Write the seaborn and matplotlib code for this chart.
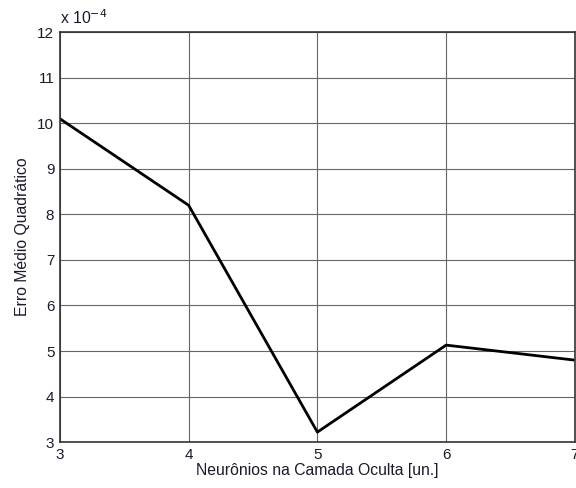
import pandas as pd
import seaborn as sns
import matplotlib.pyplot as plt

# Neurons in the hidden layer vs mean squared error (x 10^-4)
neurons = [3, 4, 5, 6, 7]
mse = [10.1, 8.2, 3.22, 5.13, 4.8]
x_ticks = [3, 4, 5, 6, 7]
y_ticks = [3, 4, 5, 6, 7, 8, 9, 10, 11, 12]

df = pd.DataFrame({"Neuronios": neurons, "Erro": mse})

sns.set_style("white")
plt.rcParams['font.family'] = ['Liberation Sans', 'DejaVu Sans']

fig = plt.figure(figsize=(5.76, 4.88), dpi=100)
ax = fig.add_axes([0.104, 0.094, 0.894, 0.84])

sns.lineplot(x="Neuronios", y="Erro", data=df, color='black', linewidth=2, ax=ax)

ax.set_xlim(3, 7)
ax.set_ylim(3, 12)
ax.set_xticks(x_ticks)
ax.set_yticks(y_ticks)
ax.grid(True, color='#666666', linewidth=0.8, linestyle='-')
ax.set_axisbelow(True)
for s in ax.spines.values():
    s.set_color('#333333')
    s.set_linewidth(1.2)

txt_color = '#1a1a2a'
fs = 11.3
ax.tick_params(axis='both', labelsize=11, colors=txt_color, length=0, pad=4)
ax.set_xlabel('Neurônios na Camada Oculta [un.]', fontsize=fs, color=txt_color, labelpad=1)
ax.set_ylabel('Erro Médio Quadrático', fontsize=fs, color=txt_color, labelpad=5)
ax.text(0.0, 1.012, 'x 10$^{-4}$', transform=ax.transAxes, fontsize=fs,
        color=txt_color, ha='left', va='bottom')

plt.savefig('out.png', dpi=100)
